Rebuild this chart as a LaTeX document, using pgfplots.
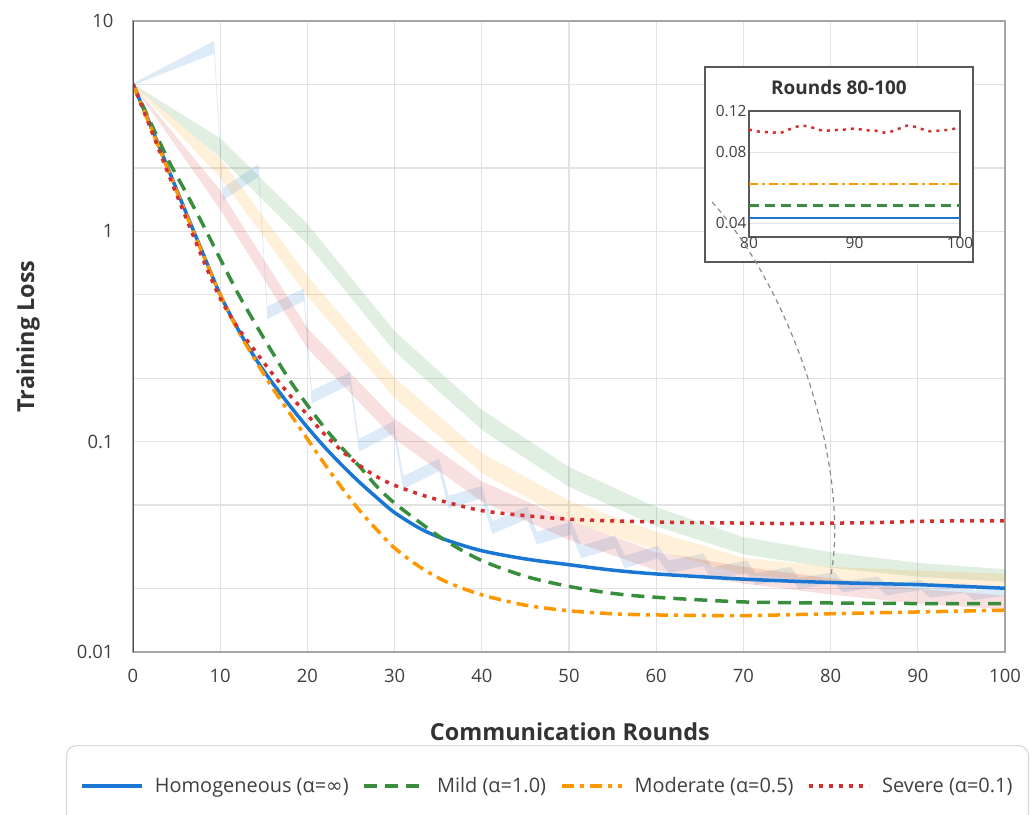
\documentclass[border=0pt]{standalone}
\usepackage{fontspec}
\setmainfont{Open Sans}
\newfontfamily\djv{DejaVu Sans}
\usepackage{pgfplots}
\usepackage{pgfplotstable}
\pgfplotsset{compat=1.18}
\usepgfplotslibrary{fillbetween}

\definecolor{cblue}{HTML}{1976D2}
\definecolor{cgreen}{HTML}{388E3C}
\definecolor{corange}{HTML}{FF9800}
\definecolor{cred}{HTML}{D32F2F}
\definecolor{gridc}{HTML}{E2E2E2}

% main curves
\pgfplotstableread{
x y
0 5
2 3.2
4 2.0
6 1.25
8 0.79
10 0.5
12 0.345
14 0.25
16 0.19
18 0.148
20 0.117
22 0.094
24 0.077
26 0.064
28 0.054
30 0.046
33 0.0385
36 0.034
40 0.0303
45 0.0277
50 0.026
55 0.0245
60 0.0235
70 0.0222
80 0.0214
90 0.0209
100 0.0201
}\homog
\pgfplotstableread{
x y
0 5
2 3.3
4 2.2
6 1.55
8 1.08
10 0.74
12 0.51
14 0.365
16 0.265
18 0.195
20 0.149
22 0.116
24 0.093
26 0.076
28 0.061
30 0.051
33 0.041
36 0.0335
40 0.0272
45 0.0229
50 0.0205
55 0.019
60 0.0182
70 0.0173
80 0.0171
90 0.017
100 0.017
}\mild
\pgfplotstableread{
x y
0 5
2 3.15
4 1.97
6 1.23
8 0.78
10 0.5
12 0.34
14 0.245
16 0.18
18 0.136
20 0.103
22 0.078
24 0.06
26 0.047
28 0.038
30 0.0312
33 0.0252
36 0.0215
40 0.0187
45 0.0167
50 0.0157
55 0.0152
60 0.015
70 0.0149
80 0.0152
90 0.0155
100 0.0158
}\moder
\pgfplotstableread{
x y
0 5
2 3.1
4 1.9
6 1.18
8 0.74
10 0.48
12 0.35
14 0.27
16 0.21
18 0.166
20 0.134
22 0.108
24 0.09
26 0.077
28 0.068
30 0.062
33 0.056
36 0.0515
40 0.047
45 0.0445
50 0.0428
55 0.042
60 0.0415
65 0.0412
70 0.041
75 0.0408
80 0.041
85 0.0412
90 0.0418
95 0.042
100 0.042
}\severe

% bands: mean m, half width w (decades)
\pgfplotstableread{
x m w
0 5 0.005
9.3 7.5 0.03
10.3 1.5 0.03
14.4 1.95 0.03
15.4 0.41 0.03
19.6 0.50 0.03
20.5 0.163 0.03
24.9 0.20 0.03
25.9 0.096 0.03
29.9 0.117 0.03
31.0 0.064 0.03
35.1 0.0775 0.03
36.2 0.0516 0.03
40.0 0.0575 0.03
41.2 0.039 0.03
45.2 0.046 0.03
46.3 0.0348 0.03
50.3 0.0389 0.03
51.4 0.0299 0.03
55.3 0.0334 0.03
56.4 0.0268 0.03
60.2 0.0299 0.03
61.4 0.0254 0.03
65.4 0.0274 0.03
66.4 0.0236 0.03
70.4 0.0254 0.03
71.4 0.0222 0.028
75.4 0.0238 0.028
76.4 0.0212 0.027
80.4 0.0226 0.026
81.4 0.0204 0.026
85.4 0.0216 0.025
86.4 0.0197 0.025
90.4 0.0208 0.024
91.4 0.0191 0.024
95.4 0.0201 0.023
96.4 0.0186 0.023
100 0.0195 0.022
}\bband
\pgfplotstableread{
x m w
0 5 0.002
10 2.49 0.046
20 0.97 0.048
30 0.30 0.048
40 0.127 0.048
50 0.068 0.047
60 0.044 0.045
70 0.032 0.041
80 0.0274 0.037
90 0.0246 0.033
100 0.0231 0.03
}\gband
\pgfplotstableread{
x m w
0 5 0.002
10 2.0 0.046
20 0.55 0.048
30 0.18 0.048
40 0.079 0.048
50 0.047 0.047
60 0.0337 0.044
70 0.0256 0.04
80 0.0234 0.036
90 0.0226 0.033
100 0.022 0.03
}\oband
\pgfplotstableread{
x m w
0 5 0.002
10 1.41 0.046
20 0.31 0.048
30 0.115 0.048
40 0.058 0.048
50 0.038 0.047
60 0.027 0.044
70 0.0232 0.04
80 0.0205 0.038
90 0.0184 0.035
100 0.0172 0.033
}\rband

% inset
\pgfplotstableread{
x y
80 0.100
81 0.098
82 0.0975
83 0.097
84 0.101
85 0.104
86 0.102
87 0.099
88 0.0995
89 0.100
90 0.101
91 0.0995
92 0.099
93 0.097
94 0.100
95 0.104
96 0.102
97 0.0985
98 0.099
99 0.100
100 0.102
}\insred
\pgfplotstableread{
x b g o
80 0.0422 0.0477 0.0587
100 0.0422 0.0477 0.0587
}\insflat

\begin{document}
\begin{tikzpicture}[x=1bp,y=1bp]
\begin{axis}[
  at={(133bp,163bp)}, anchor=south west, scale only axis,
  width=872bp, height=631bp,
  xmin=0, xmax=100, ymin=0.01, ymax=10, ymode=log,
  xtick={0,10,...,100},
  ytick={0.01,0.1,1,10}, yticklabels={0.01,0.1,1,10},
  minor ytick={0.02,0.05,0.2,0.5,2,5},
  grid=both,
  major grid style={gridc, line width=1.2bp},
  minor grid style={gridc, line width=1.2bp},
  major tick length=0, minor tick length=0,
  axis line style={black!35, line width=1.2bp},
  tick label style={font=\fontsize{18.5}{22}\selectfont, text=black!75},
  /pgf/number format/assume math mode=true,
  xticklabel style={yshift=-14bp},
  yticklabel style={xshift=-16bp},
  xlabel={Communication Rounds}, ylabel={Training Loss},
  label style={font=\bfseries\fontsize{23.5}{28}\selectfont, text=black!80},
  xlabel style={at={(axis description cs:0.501,-0.1268)}, anchor=center},
  ylabel style={at={(axis description cs:-0.1204,0.5)}, anchor=center},
  legend style={at={(axis description cs:0.4753,-0.1474)}, anchor=north,
    draw=black!15, rounded corners=10bp, line width=1.2bp,
    inner xsep=14bp, inner ysep=30bp,
    font=\fontsize{20}{24}\selectfont, text=black!75,
    /tikz/every odd column/.append style={column sep=9bp},
    /tikz/every even column/.append style={column sep=12bp}},
  legend columns=4, legend cell align=left,
  legend image code/.code={\draw[#1] (0bp,0bp) -- (60bp,0bp);},
]
% bands
\addplot[name path=bU, draw=none, forget plot] table[x=x, y expr={\thisrow{m}*10^(\thisrow{w})}] {\bband};
\addplot[name path=bL, draw=none, forget plot] table[x=x, y expr={\thisrow{m}/10^(\thisrow{w})}] {\bband};
\addplot[fill=cblue, fill opacity=0.15, draw=none, forget plot] fill between[of=bU and bL];

\addplot[name path=gU, draw=none, forget plot] table[x=x, y expr={\thisrow{m}*10^(\thisrow{w})}] {\gband};
\addplot[name path=gL, draw=none, forget plot] table[x=x, y expr={\thisrow{m}/10^(\thisrow{w})}] {\gband};
\addplot[fill=cgreen, fill opacity=0.15, draw=none, forget plot] fill between[of=gU and gL];

\addplot[name path=oU, draw=none, forget plot] table[x=x, y expr={\thisrow{m}*10^(\thisrow{w})}] {\oband};
\addplot[name path=oL, draw=none, forget plot] table[x=x, y expr={\thisrow{m}/10^(\thisrow{w})}] {\oband};
\addplot[fill=corange, fill opacity=0.15, draw=none, forget plot] fill between[of=oU and oL];

\addplot[name path=rU, draw=none, forget plot] table[x=x, y expr={\thisrow{m}*10^(\thisrow{w})}] {\rband};
\addplot[name path=rL, draw=none, forget plot] table[x=x, y expr={\thisrow{m}/10^(\thisrow{w})}] {\rband};
\addplot[fill=cred, fill opacity=0.15, draw=none, forget plot] fill between[of=rU and rL];

% main lines
\addplot[cblue, line width=3.5bp, smooth, line join=round] table[x=x,y=y] {\homog};
\addlegendentry{Homogeneous (α={\djv ∞})}
\addplot[cgreen, line width=3.5bp, smooth, dash pattern=on 13bp off 8bp] table[x=x,y=y] {\mild};
\addlegendentry{Mild (α=1.0)}
\addplot[corange, line width=3.5bp, smooth, dash pattern=on 12bp off 6bp on 4bp off 6bp] table[x=x,y=y] {\moder};
\addlegendentry{Moderate (α=0.5)}
\addplot[cred, line width=3.5bp, smooth, dash pattern=on 4bp off 6bp] table[x=x,y=y] {\severe};
\addlegendentry{Severe (α=0.1)}

\draw[black!70, line width=1.8bp] (rel axis cs:0,0) -- (rel axis cs:0,1);
\coordinate (k0) at (axis cs:66.4,1.38);
\coordinate (k1) at (axis cs:76.5,0.47);
\coordinate (k2) at (axis cs:82.2,0.066);
\coordinate (k3) at (axis cs:80,0.0228);
\end{axis}

% inset
\draw[black!65, line width=1.5bp, fill=white] (705,553) rectangle (973,748);
\node[font=\bfseries\fontsize{19}{22}\selectfont, text=black!80] at (839,728) {Rounds 80-100};
\begin{axis}[
  at={(749bp,578bp)}, anchor=south west, scale only axis,
  width=211bp, height=126bp,
  xmin=80, xmax=100, ymode=log, ymin=0.035, ymax=0.12,
  xtick={80,90,100},
  ytick={0.04,0.08,0.12}, yticklabels={0.04,0.08,0.12},
  ymajorgrids, major grid style={gridc, line width=1bp},
  major tick length=0, minor tick length=0,
  axis line style={black!65, line width=1.5bp},
  tick label style={font=\fontsize{15.5}{18}\selectfont, text=black!75},
  /pgf/number format/assume math mode=true,
  xticklabel style={yshift=3bp},
  yticklabel style={xshift=1bp},
]
\addplot[cblue, line width=2.5bp] table[x=x,y=b] {\insflat};
\addplot[cgreen, line width=2.5bp, dash pattern=on 10bp off 6bp] table[x=x,y=g] {\insflat};
\addplot[corange, line width=2.5bp, dash pattern=on 9bp off 4bp on 3bp off 4bp] table[x=x,y=o] {\insflat};
\addplot[cred, line width=2.5bp, smooth, dash pattern=on 3bp off 5bp] table[x=x,y=y] {\insred};
\end{axis}

\draw[black!45, line width=1.2bp, dash pattern=on 5bp off 4bp] (k0) .. controls (k1) and (k2) .. (k3);
\pgfresetboundingbox
\path[use as bounding box] (0,0) rectangle (1035,815);
\end{tikzpicture}
\end{document}
